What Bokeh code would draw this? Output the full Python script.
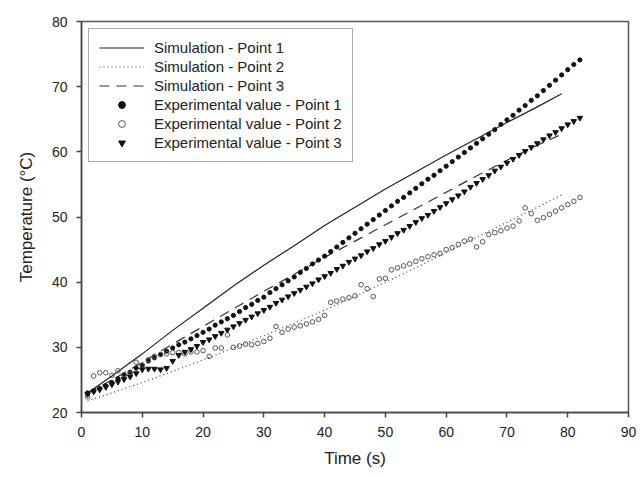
from bokeh.plotting import figure
from bokeh.embed import file_html
from bokeh.resources import INLINE
from bokeh.models import Range1d, FixedTicker

# ---------------- data ----------------
t_sim = [1, 5, 10, 15, 20, 25, 30, 35, 40, 45, 50, 55, 60, 65, 70, 75, 79]
sim_point1 = [23.0, 25.6, 29.0, 32.6, 36.0, 39.4, 42.6, 45.6, 48.7, 51.5, 54.3, 56.9, 59.5, 62.0, 64.5, 66.9, 68.9]
sim_point2 = [21.8, 23.0, 24.6, 26.3, 28.1, 29.9, 31.8, 33.7, 35.7, 37.8, 40.0, 42.2, 44.5, 46.9, 49.2, 51.5, 53.4]
sim_point3 = [23.0, 25.0, 27.7, 30.5, 33.2, 35.9, 38.6, 41.2, 43.8, 46.3, 48.8, 51.3, 53.8, 56.3, 58.7, 61.0, 62.7]

t_exp = list(range(1, 83))
exp_point1 = [23.0, 23.3, 23.7, 24.1, 24.6, 25.2, 25.7, 26.2, 26.8, 27.3,
              27.9, 28.4, 28.9, 29.4, 29.9, 30.4, 30.8, 31.3, 31.8, 32.3,
              32.8, 33.4, 33.9, 34.4, 34.9, 35.5, 36.1, 36.6, 37.2, 37.7,
              38.4, 39.0, 39.6, 40.2, 40.8, 41.5, 42.1, 42.8, 43.4, 44.0,
              44.7, 45.4, 46.1, 46.8, 47.5, 48.2, 48.9, 49.6, 50.3, 51.0,
              51.7, 52.4, 53.0, 53.7, 54.4, 55.1, 55.8, 56.4, 57.1, 57.8,
              58.5, 59.2, 59.9, 60.6, 61.3, 62.0, 62.7, 63.4, 64.2, 64.9,
              65.6, 66.4, 67.1, 67.9, 68.6, 69.4, 70.2, 71.0, 71.8, 72.6,
              73.4, 74.1]
exp_point2 = [22.4, 25.6, 26.1, 26.1, 25.7, 26.4, 25.8, 26.0, 27.7, 27.2,
              28.1, 28.6, 28.9, 29.0, 29.2, 29.2, 29.0, 29.3, 29.3, 29.5,
              28.6, 29.9, 29.9, 31.9, 30.0, 30.2, 30.5, 30.4, 30.6, 30.9,
              31.4, 33.2, 32.3, 32.8, 33.1, 33.3, 33.6, 33.9, 34.3, 34.9,
              36.9, 37.1, 37.4, 37.6, 37.9, 39.6, 39.0, 37.8, 40.5, 40.6,
              41.9, 42.2, 42.5, 42.8, 43.2, 43.6, 43.9, 44.2, 44.4, 45.0,
              45.3, 45.8, 46.3, 46.6, 45.4, 46.2, 47.3, 47.6, 47.9, 48.3,
              48.6, 49.4, 51.4, 50.5, 49.5, 49.9, 50.4, 50.9, 51.4, 51.9,
              52.4, 53.0]
exp_point3 = [22.8, 23.2, 23.5, 23.9, 24.3, 24.7, 25.1, 25.5, 26.0, 26.6,
              26.7, 26.7, 26.6, 26.8, 27.9, 28.8, 29.3, 29.7, 30.2, 30.8,
              31.2, 31.7, 32.2, 32.7, 33.2, 33.7, 34.2, 34.7, 35.2, 35.7,
              36.2, 36.8, 37.3, 37.8, 38.3, 38.8, 39.3, 39.8, 40.4, 40.9,
              41.4, 42.0, 42.5, 43.1, 43.6, 44.1, 44.7, 45.2, 45.8, 46.3,
              46.9, 47.5, 48.0, 48.6, 49.2, 49.8, 50.3, 50.9, 51.5, 52.1,
              52.7, 53.3, 53.9, 54.6, 55.2, 55.8, 56.4, 57.1, 57.7, 58.3,
              58.9, 59.5, 60.1, 60.7, 61.3, 61.9, 62.5, 63.0, 63.6, 64.2,
              64.7, 65.2]

x_ticks = [0, 10, 20, 30, 40, 50, 60, 70, 80, 90]
y_ticks = [20, 30, 40, 50, 60, 70, 80]

# ---------------- figure ----------------
FONT = "Liberation Sans"
p = figure(width=636, height=470, output_backend="svg", toolbar_location=None,
           x_range=Range1d(0, 90), y_range=Range1d(20, 80),
           min_border_left=81, min_border_right=8, min_border_top=21, min_border_bottom=55)
p.xgrid.visible = False
p.ygrid.visible = False
p.outline_line_color = "#555555"
p.outline_line_width = 1.5
p.background_fill_color = "white"
p.border_fill_color = "white"

p.line(t_sim, sim_point1, line_color="#222222", line_width=1.2, legend_label="Simulation - Point 1")
p.line(t_sim, sim_point2, line_color="#444444", line_width=1.2, line_dash="1 3", legend_label="Simulation - Point 2")
p.line(t_sim, sim_point3, line_color="#333333", line_width=1.2, line_dash="10 7", legend_label="Simulation - Point 3")
p.scatter(t_exp, exp_point1, marker="circle", size=4.2, fill_color="#111111", line_color="#111111",
          legend_label="Experimental value - Point 1")
p.scatter(t_exp, exp_point2, marker="circle", size=4.6, fill_color="white", fill_alpha=0.0,
          line_color="#555555", line_width=1.0, legend_label="Experimental value - Point 2")
p.scatter(t_exp, exp_point3, marker="inverted_triangle", size=5.5, fill_color="#111111", line_color="#111111",
          legend_label="Experimental value - Point 3")

for ax, ticks, lbl in ((p.xaxis[0], x_ticks, "Time (s)"), (p.yaxis[0], y_ticks, "Temperature (°C)")):
    ax.ticker = FixedTicker(ticks=ticks)
    ax.minor_tick_line_color = None
    ax.major_tick_in = 0
    ax.major_tick_out = 5
    ax.major_tick_line_color = "#444444"
    ax.major_tick_line_width = 1.5
    ax.axis_line_color = "#444444"
    ax.axis_line_width = 1.5
    ax.major_label_text_font = FONT
    ax.major_label_text_font_size = "14px"
    ax.major_label_text_color = "#222222"
    ax.axis_label = lbl
    ax.axis_label_text_font = FONT
    ax.axis_label_text_font_size = "17px"
    ax.axis_label_text_font_style = "normal"
    ax.axis_label_text_color = "#222222"
    ax.major_label_standoff = 9

p.xaxis[0].axis_label_standoff = 9
p.yaxis[0].axis_label_standoff = 13

lg = p.legend[0]
lg.location = "top_left"
lg.margin = 7
lg.padding = 10
lg.spacing = 2
lg.glyph_width = 45
lg.glyph_height = 17
lg.label_height = 17
lg.label_standoff = 10
lg.label_text_font = FONT
lg.label_text_font_size = "15px"
lg.label_text_color = "#222222"
lg.border_line_color = "#555555"
lg.border_line_width = 1.5
lg.background_fill_alpha = 1.0

open("out.html", "w").write(file_html(p, INLINE))
